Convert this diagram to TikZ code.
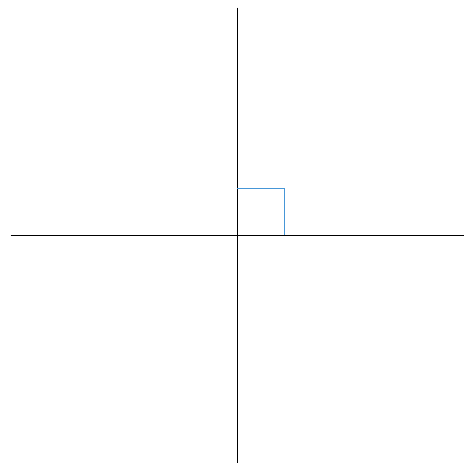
\documentclass[tikz,border=0pt]{standalone}
\definecolor{sqblue}{RGB}{70,150,215}
\begin{document}
\begin{tikzpicture}[x=1pt,y=-1pt,
  axis/.style={draw=black,line width=1pt},
  rightangle/.style={draw=sqblue,line width=1pt}]
\useasboundingbox[fill=white] (0,0) rectangle (468,464);
\coordinate (O) at (237,235);
\coordinate (L) at (10.5,235);
\coordinate (R) at (463.5,235);
\coordinate (T) at (237,7.5);
\coordinate (B) at (237,463);
\coordinate (SA) at (237,188);
\coordinate (SB) at (284,188);
\coordinate (SC) at (284,235);
\draw[axis] (L) -- (R);
\draw[axis] (T) -- (B);
\draw[rightangle] (SA) -- (SB) -- (SC);
\end{tikzpicture}
\end{document}
